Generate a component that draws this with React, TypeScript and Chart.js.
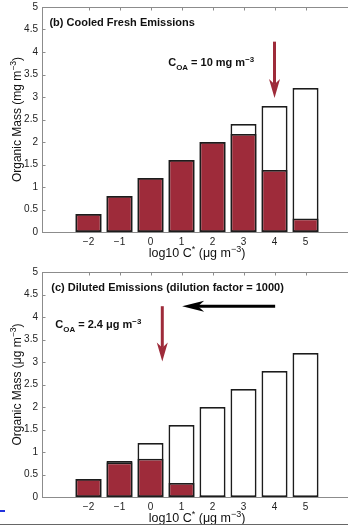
import React, { useEffect, useRef } from "react";
import { Chart, registerables } from "chart.js";

Chart.register(...registerables);

// ---------------- data ----------------
const CATEGORIES = [-2, -1, 0, 1, 2, 3, 4, 5];
const TOTAL_MASS = [0.4, 0.8, 1.2, 1.6, 2.0, 2.4, 2.8, 3.2];
const COOLED_PARTICLE = [0.4, 0.8, 1.2, 1.6, 2.0, 2.18, 1.38, 0.3];
const DILUTED_PARTICLE = [0.4, 0.77, 0.85, 0.31, 0.03, 0, 0, 0];
const Y_MIN = 0;
const Y_MAX = 5;
const Y_STEP = 0.5;
const X_MIN = -3.5;
const X_MAX = 6.37;

const FONT = '"Liberation Sans", Arial, Helvetica, sans-serif';
const RED = "#9e2b3a";
const EDGE = "#1c1c1c";
const FRAME = "#8c8c8c";

type Piece = { t: string; s?: "sup" | "sub" };
type Ann =
  | { kind: "text"; x: number; y: number; pieces: Piece[]; size: number; bold: boolean }
  | { kind: "arrow"; x1: number; y1: number; x2: number; y2: number; color: string; width: number; headLen: number; headW: number };

function fmt(v: number): string {
  return v < 0 ? "\u2212" + String(-v) : String(v);
}

function pieceFont(size: number, bold: boolean, p: Piece) {
  const sz = p.s ? size * 0.72 : size;
  return `${bold ? "bold " : ""}${sz}px ${FONT}`;
}

function richWidth(ctx: CanvasRenderingContext2D, pieces: Piece[], size: number, bold: boolean) {
  let w = 0;
  for (const p of pieces) {
    ctx.font = pieceFont(size, bold, p);
    w += ctx.measureText(p.t).width;
  }
  return w;
}

function drawRich(ctx: CanvasRenderingContext2D, pieces: Piece[], x: number, y: number, size: number, bold: boolean) {
  let cx = x;
  ctx.textBaseline = "alphabetic";
  ctx.textAlign = "left";
  for (const p of pieces) {
    ctx.font = pieceFont(size, bold, p);
    const dy = p.s === "sup" ? -size * 0.42 : p.s === "sub" ? size * 0.3 : 0;
    ctx.fillText(p.t, cx, y + dy);
    cx += ctx.measureText(p.t).width;
  }
}

function drawArrow(ctx: CanvasRenderingContext2D, x1: number, y1: number, x2: number, y2: number, color: string, width: number, headLen: number, headW: number) {
  const dx = x2 - x1;
  const dy = y2 - y1;
  const len = Math.hypot(dx, dy);
  const ux = dx / len;
  const uy = dy / len;
  const px = -uy;
  const py = ux;
  const bx = x2 - ux * headLen;
  const by = y2 - uy * headLen;
  const nx = x2 - ux * headLen * 0.72;
  const ny = y2 - uy * headLen * 0.72;
  ctx.save();
  ctx.strokeStyle = color;
  ctx.fillStyle = color;
  ctx.lineWidth = width;
  ctx.beginPath();
  ctx.moveTo(x1, y1);
  ctx.lineTo(nx, ny);
  ctx.stroke();
  ctx.beginPath();
  ctx.moveTo(x2, y2);
  ctx.lineTo(bx + px * headW / 2, by + py * headW / 2);
  ctx.lineTo(nx, ny);
  ctx.lineTo(bx - px * headW / 2, by - py * headW / 2);
  ctx.closePath();
  ctx.fill();
  ctx.restore();
}

type PanelCfg = {
  width: number;
  height: number;
  padTop: number;
  xAxisHeight: number;
  particle: number[];
  yTitle: Piece[];
  xTitle: Piece[];
  xTitleAt: number; // data x of title centre
  anns: Ann[];
};

function makeChart(canvas: HTMLCanvasElement, cfg: PanelCfg) {
  const framePlugin = {
    id: "frame",
    beforeDatasetsDraw(chart: any) {
      const { ctx, chartArea: a, scales } = chart;
      ctx.save();
      ctx.strokeStyle = FRAME;
      ctx.lineWidth = 1;
      ctx.beginPath();
      ctx.moveTo(a.left + 0.5, a.bottom + 0.5);
      ctx.lineTo(a.left + 0.5, a.top + 0.5);
      ctx.lineTo(a.right, a.top + 0.5);
      ctx.moveTo(a.left, a.bottom + 0.5);
      ctx.lineTo(a.right, a.bottom + 0.5);
      // inward ticks
      for (let v = Y_MIN; v <= Y_MAX + 1e-9; v += Y_STEP) {
        const y = Math.round(scales.y.getPixelForValue(v)) + 0.5;
        ctx.moveTo(a.left, y);
        ctx.lineTo(a.left + 3.5, y);
      }
      for (const c of CATEGORIES) {
        const x = Math.round(scales.x.getPixelForValue(c)) + 0.5;
        ctx.moveTo(x, a.top);
        ctx.lineTo(x, a.top + 3.5);
      }
      ctx.stroke();
      ctx.restore();
    },
    afterDraw(chart: any) {
      const { ctx, chartArea: a, scales } = chart;
      ctx.save();
      ctx.fillStyle = "#111";
      // y title
      const ysz = 12;
      const yw = richWidth(ctx, cfg.yTitle, ysz, false);
      ctx.translate(21, (a.top + a.bottom) / 2);
      ctx.rotate(-Math.PI / 2);
      drawRich(ctx, cfg.yTitle, -yw / 2, 0, ysz, false);
      ctx.restore();
      ctx.save();
      ctx.fillStyle = "#111";
      const xsz = 12.5;
      const xw = richWidth(ctx, cfg.xTitle, xsz, false);
      drawRich(ctx, cfg.xTitle, scales.x.getPixelForValue(cfg.xTitleAt) - xw / 2, a.bottom + 25, xsz, false);
      // annotations
      for (const an of cfg.anns) {
        if (an.kind === "text") {
          ctx.fillStyle = "#111";
          drawRich(ctx, an.pieces, scales.x.getPixelForValue(an.x), scales.y.getPixelForValue(an.y), an.size, an.bold);
        } else {
          drawArrow(
            ctx,
            scales.x.getPixelForValue(an.x1),
            scales.y.getPixelForValue(an.y1),
            scales.x.getPixelForValue(an.x2),
            scales.y.getPixelForValue(an.y2),
            an.color,
            an.width,
            an.headLen,
            an.headW
          );
        }
      }
      ctx.restore();
    },
  };

  const barBase = {
    borderColor: EDGE,
    borderWidth: 1.8,
    borderSkipped: false,
    grouped: false,
    barPercentage: 0.84,
    categoryPercentage: 1,
  };

  return new Chart(canvas, {
    type: "bar",
    data: {
      datasets: [
        {
          ...barBase,
          label: "particle",
          data: CATEGORIES.map((c, i) => ({ x: c, y: cfg.particle[i] })),
          backgroundColor: RED,
          order: 0,
        } as any,
        {
          ...barBase,
          label: "total",
          data: CATEGORIES.map((c, i) => ({ x: c, y: TOTAL_MASS[i] })),
          backgroundColor: "#ffffff",
          order: 1,
        } as any,
      ],
    },
    options: {
      responsive: false,
      maintainAspectRatio: false,
      animation: false,
      events: [],
      layout: { padding: { top: cfg.padTop, left: 0, right: 0, bottom: 0 } },
      plugins: { legend: { display: false }, tooltip: { enabled: false } },
      scales: {
        x: {
          type: "linear",
          offset: false,
          min: X_MIN,
          max: X_MAX,
          afterBuildTicks: (s: any) => {
            s.ticks = CATEGORIES.map((v) => ({ value: v }));
          },
          afterFit: (s: any) => {
            s.height = cfg.xAxisHeight;
            s.paddingLeft = 0;
            s.paddingRight = 0;
          },
          ticks: {
            callback: (v: any) => fmt(Number(v)),
            font: { family: FONT, size: 10 },
            color: "#222",
            padding: 4,
            maxRotation: 0,
            autoSkip: false,
          },
          grid: { display: false, drawTicks: false },
          border: { display: false },
        },
        y: {
          min: Y_MIN,
          max: Y_MAX,
          afterFit: (s: any) => {
            s.width = 42;
            s.paddingTop = 0;
            s.paddingBottom = 0;
          },
          ticks: {
            stepSize: Y_STEP,
            callback: (v: any) => String(Number(v)),
            font: { family: FONT, size: 10 },
            color: "#222",
            padding: 4,
          },
          grid: { display: false, drawTicks: false },
          border: { display: false },
        },
      },
    } as any,
    plugins: [framePlugin],
  });
}

const X_TITLE: Piece[] = [{ t: "log10 C" }, { t: "*", s: "sup" }, { t: " (\u03bcg m" }, { t: "\u22123", s: "sup" }, { t: ")" }];

const TOP_CFG: PanelCfg = {
  width: 348,
  height: 260,
  padTop: 7,
  xAxisHeight: 28,
  particle: COOLED_PARTICLE,
  yTitle: [{ t: "Organic Mass (mg m" }, { t: "\u22123", s: "sup" }, { t: ")" }],
  xTitle: X_TITLE,
  xTitleAt: 1.5,
  anns: [
    { kind: "text", x: -3.26, y: 4.58, pieces: [{ t: "(b) Cooled Fresh Emissions" }], size: 11, bold: true },
    {
      kind: "text",
      x: 0.57,
      y: 3.68,
      pieces: [{ t: "C" }, { t: "OA", s: "sub" }, { t: " = 10 mg m" }, { t: "\u22123", s: "sup" }],
      size: 11,
      bold: true,
    },
    { kind: "arrow", x1: 4.0, y1: 4.23, x2: 4.0, y2: 2.98, color: RED, width: 3, headLen: 19, headW: 11 },
  ],
};

const BOTTOM_CFG: PanelCfg = {
  width: 348,
  height: 266,
  padTop: 12,
  xAxisHeight: 29,
  particle: DILUTED_PARTICLE,
  yTitle: [{ t: "Organic Mass (\u03bcg m" }, { t: "\u22123", s: "sup" }, { t: ")" }],
  xTitle: X_TITLE,
  xTitleAt: 1.5,
  anns: [
    { kind: "text", x: -3.2, y: 4.57, pieces: [{ t: "(c) Diluted Emissions (dilution factor = 1000)" }], size: 11, bold: true },
    {
      kind: "text",
      x: -3.07,
      y: 3.75,
      pieces: [{ t: "C" }, { t: "OA", s: "sub" }, { t: " = 2.4 \u03bcg m" }, { t: "\u22123", s: "sup" }],
      size: 11,
      bold: true,
    },
    { kind: "arrow", x1: 4.02, y1: 4.24, x2: 1.02, y2: 4.24, color: "#000", width: 3, headLen: 22, headW: 11 },
    { kind: "arrow", x1: 0.38, y1: 4.24, x2: 0.38, y2: 3.01, color: RED, width: 3, headLen: 19, headW: 11 },
  ],
};

function Panel({ cfg }: { cfg: PanelCfg }) {
  const ref = useRef<HTMLCanvasElement | null>(null);
  useEffect(() => {
    if (!ref.current) return;
    const ch = makeChart(ref.current, cfg);
    return () => ch.destroy();
  }, [cfg]);
  return <canvas ref={ref} width={cfg.width} height={cfg.height} style={{ display: "block", width: cfg.width, height: cfg.height }} />;
}

export default function App() {
  return (
    <div style={{ position: "fixed", left: 0, top: 0, width: 348, height: 526, background: "#fff", overflow: "hidden" }}>
      <Panel cfg={TOP_CFG} />
      <Panel cfg={BOTTOM_CFG} />
      <div style={{ position: "absolute", left: 0, top: 510, width: 5, height: 2, background: "#2233dd" }} />
      <div style={{ position: "absolute", left: 0, top: 524, width: 348, height: 1, background: "#666" }} />
    </div>
  );
}
